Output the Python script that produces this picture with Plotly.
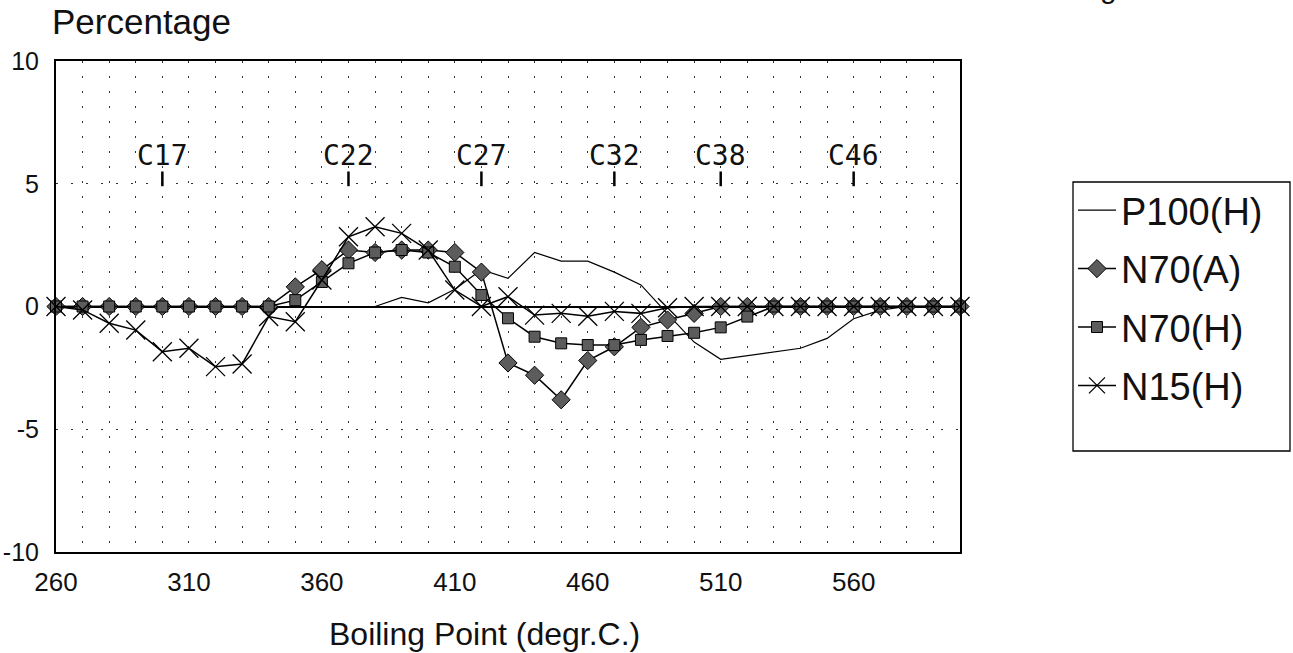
import plotly.graph_objects as go

# Boiling point grid (degr.C.)
bp = list(range(260, 601, 10))

p100_h = [0, 0, 0, 0, 0, 0, 0, 0, 0, 0, 0, 0, 0,
          0.37, 0.15, 0.7, 1.5, 1.15, 2.2, 1.85, 1.85, 1.4, 0.88, -0.3,
          -1.45, -2.15, -2.0, -1.85, -1.7, -1.3, -0.5, -0.15, 0, 0, 0]
n70_a = [0, 0, 0, 0, 0, 0, 0, 0, 0,
         0.8, 1.5, 2.3, 2.2, 2.3, 2.3, 2.2, 1.4, -2.3, -2.8, -3.8, -2.2,
         -1.64, -0.85, -0.55, -0.28,
         0, 0, 0, 0, 0, 0, 0, 0, 0, 0]
n70_h = [0, 0, 0, 0, 0, 0, 0, 0, 0,
         0.26, 1.0, 1.76, 2.2, 2.3, 2.2, 1.62, 0.47, -0.48, -1.23, -1.5,
         -1.57, -1.57, -1.36, -1.2, -1.07, -0.85, -0.41,
         0, 0, 0, 0, 0, 0, 0, 0]
n15_h = [0, -0.14, -0.68, -0.96, -1.84, -1.70, -2.45, -2.34, -0.41, -0.62,
         1.08, 2.84, 3.25, 2.98, 2.3, 0.67, 0, 0.4, -0.35, -0.28, -0.4,
         -0.2, -0.28, -0.05,
         0, 0, 0, 0, 0, 0, 0, 0, 0, 0, 0]

# Carbon-number markers along the boiling point scale
c_labels = ["C17", "C22", "C27", "C32", "C38", "C46"]
c_bp = [300, 370, 420, 470, 510, 560]

x_ticks = [260, 310, 360, 410, 460, 510, 560]
y_ticks = [-10, -5, 0, 5, 10]
y_tick_text = ["-10", "-5", "0", "5", "10"]

FONT = "Liberation Sans, Arial, sans-serif"
fill = "#5c5c5c"

# page geometry (pixels)
W, H = 1293, 653
L, R, T, B = 56, 333, 61, 101
PW, PH = W - L - R, H - T - B


def px(xp):
    return (xp - L) / PW


def py(yp):
    return (H - B - yp) / PH


fig = go.Figure()

fig.add_trace(go.Scatter(
    x=bp, y=p100_h, name="P100(H)", mode="lines",
    line=dict(color="black", width=1.2), legendgroup="a", cliponaxis=False))
fig.add_trace(go.Scatter(
    x=bp, y=n70_a, name="N70(A)", mode="lines+markers",
    line=dict(color="black", width=1.5),
    marker=dict(symbol="diamond", size=14, color=fill,
                line=dict(color="black", width=1)),
    legendgroup="b", cliponaxis=False))
fig.add_trace(go.Scatter(
    x=bp, y=n70_h, name="N70(H)", mode="lines+markers",
    line=dict(color="black", width=1.5),
    marker=dict(symbol="square", size=11, color=fill,
                line=dict(color="black", width=1)),
    legendgroup="c", cliponaxis=False))
fig.add_trace(go.Scatter(
    x=bp, y=n15_h, name="N15(H)", mode="lines+markers",
    line=dict(color="black", width=1.5),
    marker=dict(symbol="x-thin", size=19, color="black",
                line=dict(color="black", width=1.3)),
    legendgroup="d", cliponaxis=False))

# Carbon-number labels with short tick marks
for lab, xv in zip(c_labels, c_bp):
    fig.add_shape(type="line", xref="x", yref="y", x0=xv, x1=xv, y0=4.9, y1=5.5,
                  line=dict(color="black", width=2.5))
    fig.add_annotation(x=xv, y=6.15, xref="x", yref="y", text=lab,
                       showarrow=False,
                       font=dict(family="DejaVu Sans Mono", size=28, color="#111"))

# Legend frame
fig.add_shape(type="rect", xref="paper", yref="paper",
              x0=px(1073), x1=px(1290), y0=py(451), y1=py(182),
              line=dict(color="black", width=1.3), fillcolor="rgba(0,0,0,0)",
              layer="above")

# Axis titles
fig.add_annotation(text="Percentage", xref="paper", yref="paper",
                   x=px(50), y=py(22), showarrow=False,
                   xanchor="left", yanchor="middle",
                   font=dict(family=FONT, size=35, color="#111"))
fig.add_annotation(text="Boiling Point (degr.C.)", xref="paper", yref="paper",
                   x=px(484), y=py(634), showarrow=False,
                   xanchor="center", yanchor="middle",
                   font=dict(family=FONT, size=32, color="#111"))

# trailing caption glyph at the top edge
fig.add_annotation(text="g", xref="paper", yref="paper",
                   x=px(1108), y=py(-12), xanchor="center", yanchor="middle",
                   showarrow=False,
                   font=dict(family=FONT, size=30, color="#111"))

fig.update_layout(
    width=W, height=H,
    margin=dict(l=L, r=R, t=T, b=B, autoexpand=False),
    paper_bgcolor="white", plot_bgcolor="white",
    font=dict(family=FONT, color="#111"),
    legend=dict(
        x=px(1073), y=py(179), xanchor="left", yanchor="top",
        borderwidth=0, bgcolor="rgba(0,0,0,0)",
        font=dict(family=FONT, size=38, color="#111"),
        traceorder="grouped", tracegroupgap=6,
        itemwidth=38),
    xaxis=dict(
        range=[260, 600], tickvals=x_ticks, automargin=False,
        showgrid=True, gridcolor="#333", gridwidth=1.2, griddash="2px,13px",
        minor=dict(dtick=10, tick0=260, showgrid=True, gridcolor="#333",
                   gridwidth=1.2, griddash="2px,13px"),
        showline=True, linecolor="black", linewidth=2, mirror=True,
        ticks="", ticklabelstandoff=6, zeroline=False,
        tickfont=dict(family=FONT, size=26, color="#111")),
    yaxis=dict(
        range=[-10, 10], tickvals=y_ticks, ticktext=y_tick_text,
        automargin=False,
        showgrid=True, gridcolor="#333", gridwidth=1.2, griddash="2px,13px",
        zeroline=True, zerolinecolor="black", zerolinewidth=1.5,
        showline=True, linecolor="black", linewidth=2, mirror=True,
        ticks="", ticklabelstandoff=10,
        tickfont=dict(family=FONT, size=25, color="#111")),
)

fig.write_html("out.html")
